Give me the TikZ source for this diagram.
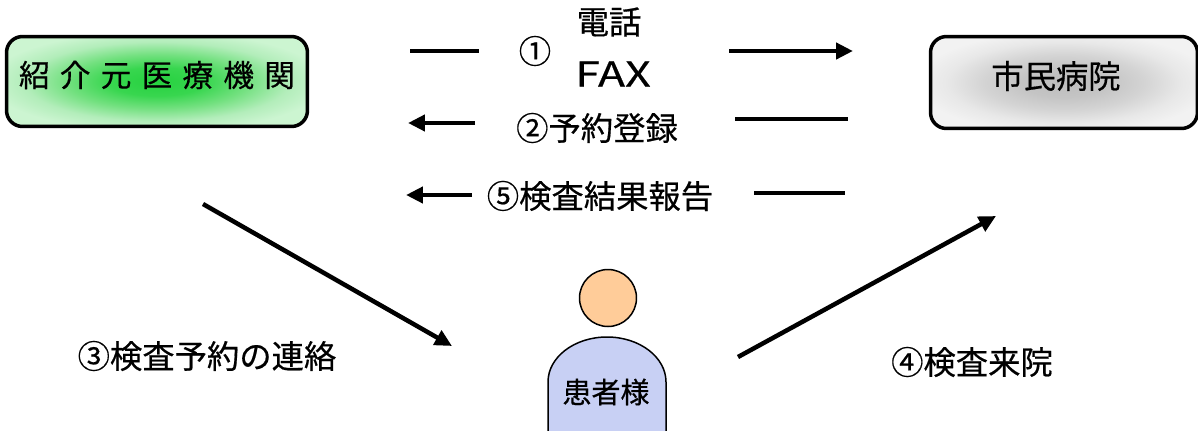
\documentclass[tikz,border=0pt]{standalone}
\usepackage{fontspec}
\setmainfont{Noto Sans CJK JP}[FakeBold=0.5]
\newfontfamily\wideface{Noto Sans CJK JP}[LetterSpace=33,FakeBold=0.5]
\newfontfamily\faxface{Noto Sans CJK JP}[FakeStretch=1.3,FakeBold=0.5]
\usetikzlibrary{arrows.meta}

\definecolor{headfill}{RGB}{255,204,153}
\definecolor{bodyfill}{RGB}{200,208,244}
\pgfdeclareradialshading{greenglow}{\pgfpoint{0bp}{0bp}}{
  rgb(0bp)=(0.15,0.82,0.25); rgb(8bp)=(0.22,0.84,0.31); rgb(15bp)=(0.45,0.88,0.50); rgb(22bp)=(0.70,0.93,0.73); rgb(28bp)=(0.80,0.96,0.82); rgb(50bp)=(0.80,0.96,0.82)}
\pgfdeclareradialshading{greyglow}{\pgfpoint{0bp}{0bp}}{
  rgb(0bp)=(0.74,0.74,0.74); rgb(8bp)=(0.77,0.77,0.77); rgb(15bp)=(0.83,0.83,0.83); rgb(22bp)=(0.91,0.91,0.91); rgb(28bp)=(0.95,0.95,0.95); rgb(50bp)=(0.95,0.95,0.95)}
\tikzset{
  lbl/.style={inner sep=0pt,font=\fontsize{18.4}{20}\selectfont},
  careboxa/.style={draw,line width=0.07cm,rounded corners=0.32cm,minimum width=6.02cm,minimum height=1.8cm,inner sep=0pt,shading=greenglow},
  careboxb/.style={draw,line width=0.07cm,rounded corners=0.32cm,minimum width=5.34cm,minimum height=1.84cm,inner sep=0pt,shading=greyglow},
  stub/.style={line width=0.09cm},
  flow/.style={line width=0.09cm,-{Triangle[length=0.34cm,width=0.32cm]}}
}

\begin{document}
\begin{tikzpicture}[x=0.02cm,y=-0.02cm]
\useasboundingbox (0,0) rectangle (1198,430);

\node[careboxa] (clinic) at (157,81.5) {};
\node[lbl,font=\wideface\fontsize{17.5}{20}\selectfont] (clinictext) at (157,75) {紹介元医療機関};
\node[careboxb] (hospital) at (1064,82.5) {};
\node[lbl] (hospitaltext) at (1056,76) {市民病院};

% request row
\node[lbl] (l1) at (535,51) {①};
\node[lbl] (tel) at (609,22) {電話};
\node[lbl,font=\faxface\fontsize{19.5}{22}\selectfont] (fax) at (613,74) {FAX};
\coordinate (a1) at (410,51);
\coordinate (a2) at (479,51);
\coordinate (a3) at (729,51);
\coordinate (a4) at (853,51);
\draw[stub] (a1) -- (a2);
\draw[flow] (a3) -- (a4);

% booking row
\node[lbl] (l2) at (597,128) {②予約登録};
\coordinate (b1) at (475,123);
\coordinate (b2) at (408,123);
\coordinate (b3) at (735,119);
\coordinate (b4) at (848,119);
\draw[flow] (b1) -- (b2);
\draw[stub] (b3) -- (b4);

% report row
\node[lbl] (l5) at (600,196) {⑤検査結果報告};
\coordinate (c1) at (472,195);
\coordinate (c2) at (406,195);
\coordinate (c3) at (754,193);
\coordinate (c4) at (845,193);
\draw[flow] (c1) -- (c2);
\draw[stub] (c3) -- (c4);

% patient
\draw[line width=0.03cm,fill=bodyfill] (548,431) -- (548,382) arc[start angle=180,end angle=0,x radius=59,y radius=-45] -- (666,431);
\node[draw,circle,line width=0.03cm,fill=headfill,minimum size=1.14cm,inner sep=0pt] (head) at (608,298) {};
\node[lbl,font=\fontsize{16.5}{20}\selectfont] (patient) at (606,392) {患者様};

% diagonals
\coordinate (d1) at (203,204);
\coordinate (d2) at (452,346);
\coordinate (e1) at (738,357);
\coordinate (e2) at (996,216);
\draw[flow] (d1) -- (d2);
\draw[flow] (e1) -- (e2);
\node[lbl] (l3) at (207,356) {③検査予約の連絡};
\node[lbl] (l4) at (972,362) {④検査来院};
\end{tikzpicture}
\end{document}
